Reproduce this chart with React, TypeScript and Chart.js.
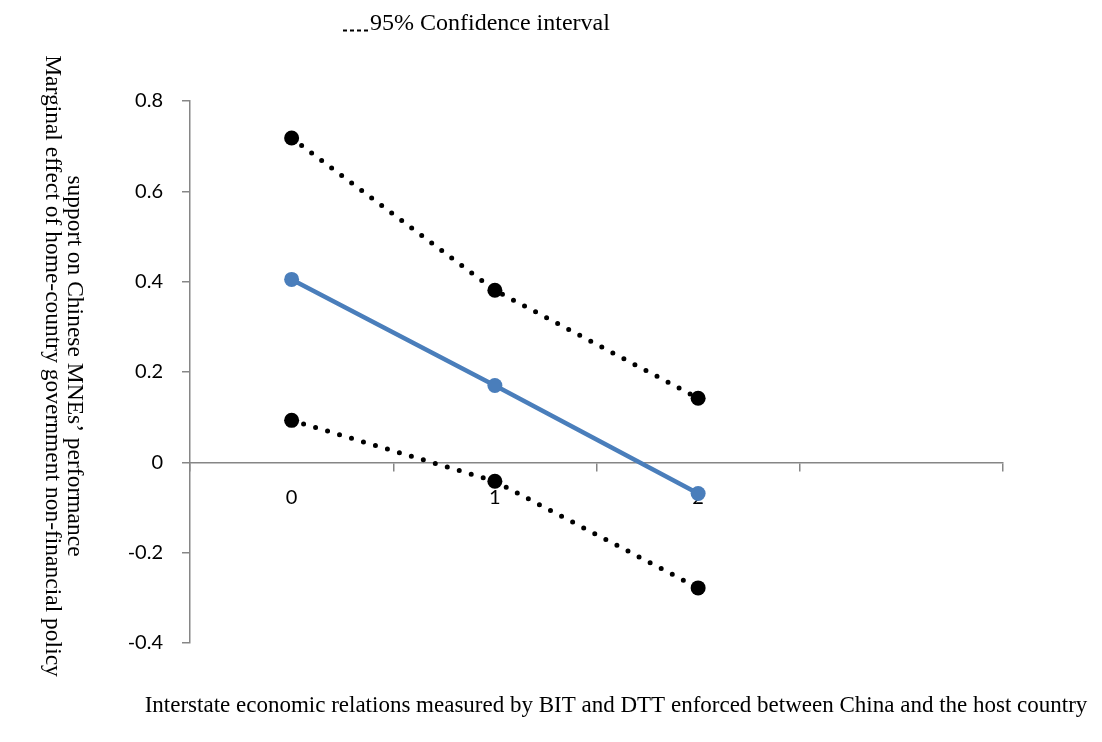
import React, { useEffect, useRef } from "react";
import { Chart, registerables } from "chart.js";

Chart.register(...registerables);

const categories = ["0", "1", "2", ""];
const upperCI = [0.718, 0.381, 0.142, null];
const marginalEffect = [0.405, 0.17, -0.069, null];
const lowerCI = [0.093, -0.042, -0.278, null];
const yTicks = [-0.4, -0.2, 0, 0.2, 0.4, 0.6, 0.8];

const legendLabel = "95% Confidence interval";
const yTitleLines = [
  "Marginal effect of home-country government non-financial policy",
  "support on Chinese MNEs\u2019 performance",
];
const xTitle =
  "Interstate economic relations measured by BIT and DTT enforced between China and the host country";

const SERIF = "'Liberation Serif', 'Times New Roman', serif";
const SANS = "Lato, 'Open Sans', sans-serif";

const annotations = {
  id: "annotations",
  afterDraw(chart: any) {
    const ctx = chart.ctx;
    ctx.save();
    // legend
    ctx.strokeStyle = "#000";
    ctx.lineWidth = 2;
    ctx.setLineDash([4, 3]);
    ctx.beginPath();
    ctx.moveTo(335, 22.5);
    ctx.lineTo(361, 22.5);
    ctx.stroke();
    ctx.setLineDash([]);
    ctx.fillStyle = "#000";
    ctx.font = "24px " + SERIF;
    ctx.textAlign = "left";
    ctx.textBaseline = "alphabetic";
    ctx.fillText(legendLabel, 362, 22);

    // y title (rotated clockwise)
    ctx.save();
    ctx.translate(38, 358);
    ctx.rotate(Math.PI / 2);
    ctx.textAlign = "center";
    ctx.textBaseline = "alphabetic";
    ctx.font = "23.5px " + SERIF;
    ctx.fillText(yTitleLines[0], 0, 0);
    ctx.fillText(yTitleLines[1], 0, -22);
    ctx.restore();

    // x title
    ctx.textAlign = "center";
    ctx.textBaseline = "middle";
    ctx.font = "23px " + SERIF;
    ctx.fillText(xTitle, 608, 698);
    ctx.restore();
  },
};

export default function App() {
  const ref = useRef<HTMLCanvasElement>(null);
  useEffect(() => {
    if (!ref.current) return;
    const dotted = {
      borderColor: "#000",
      backgroundColor: "#000",
      borderWidth: 5,
      borderDash: [0, 12.5],
      borderCapStyle: "round" as const,
      pointRadius: 7.5,
      pointHoverRadius: 7.5,
      pointBorderWidth: 0,
      pointBackgroundColor: "#000",
      tension: 0,
      spanGaps: false,
    };
    const chart = new Chart(ref.current, {
      type: "line",
      data: {
        labels: categories,
        datasets: [
          { label: legendLabel, data: upperCI, ...dotted },
          {
            label: "Marginal effect",
            data: marginalEffect,
            borderColor: "#4A7EBB",
            backgroundColor: "#4A7EBB",
            borderWidth: 4.5,
            pointRadius: 7.5,
            pointBorderWidth: 0,
            pointBackgroundColor: "#4A7EBB",
            tension: 0,
          },
          { label: "lower", data: lowerCI, ...dotted },
        ],
      },
      options: {
        responsive: false,
        animation: false,
        layout: { padding: { left: 102, right: 91, top: 93, bottom: 91 } },
        plugins: { legend: { display: false }, tooltip: { enabled: false } },
        scales: {
          x: {
            type: "category",
            position: { y: 0 } as any,
            offset: true,
            z: 1,
            afterFit(scale: any) {
              scale.height = 0;
            },
            grid: {
              offset: true,
              drawOnChartArea: false,
              drawTicks: true,
              tickLength: 8,
              color: "#868686",
              lineWidth: 1.5,
            },
            border: { display: true, color: "#868686", width: 1.5 },
            ticks: {
              color: "#000",
              font: { family: SANS, size: 20 },
              padding: 15,
              maxRotation: 0,
              autoSkip: false,
            },
          },
          y: {
            type: "linear",
            min: -0.4,
            max: 0.8,
            afterFit(scale: any) {
              scale.width = 80;
            },
            afterBuildTicks(scale: any) {
              scale.ticks = yTicks.map((v) => ({ value: v }));
            },
            grid: {
              drawOnChartArea: false,
              drawTicks: true,
              tickLength: 8,
              color: "#868686",
              lineWidth: 1.5,
            },
            border: { display: true, color: "#868686", width: 1.5 },
            ticks: {
              color: "#000",
              font: { family: SANS, size: 20 },
              padding: 19,
              callback: (v: any) => String(Number(Number(v).toFixed(1))),
            },
          },
        },
      },
      plugins: [annotations],
    });
    return () => chart.destroy();
  }, []);
  return <canvas ref={ref} width={1086} height={726} style={{ display: "block" }} />;
}
